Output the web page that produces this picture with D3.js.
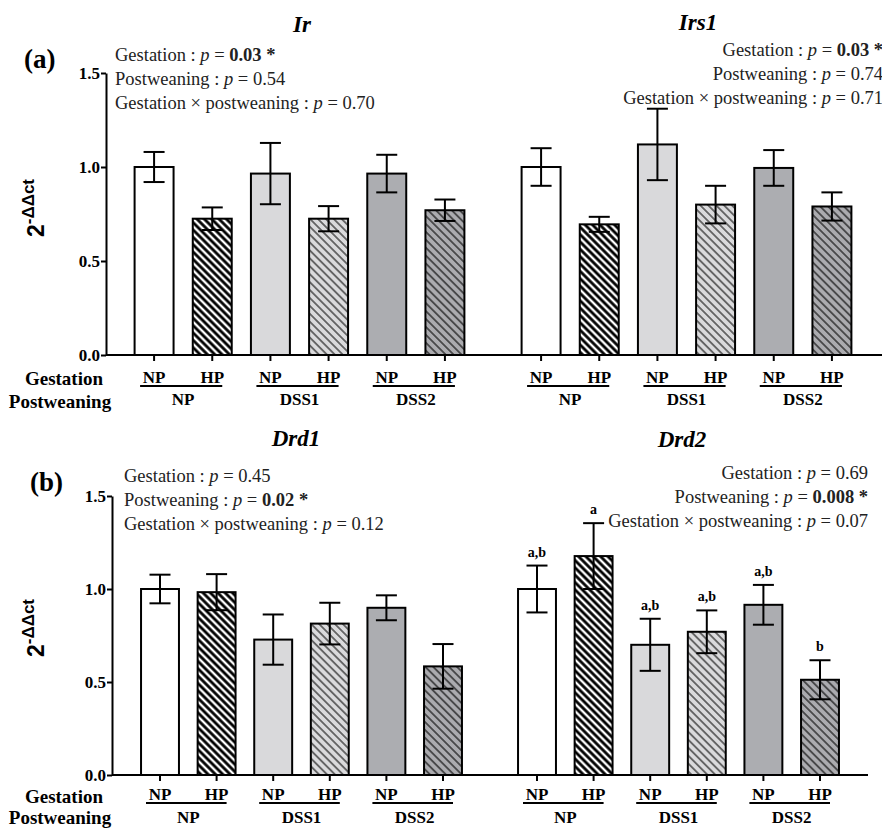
<!DOCTYPE html>
<html>
<head>
<meta charset="utf-8">
<script src="https://cdn.jsdelivr.net/npm/d3@7"></script>
<style>
  body { margin: 0; background: #fff; }
  text { font-family: "Liberation Serif", "Times New Roman", serif; }
</style>
</head>
<body>
<div id="chart"></div>
<script>
// bar groups, same order in every gene
var gestation = ["NP", "HP", "NP", "HP", "NP", "HP"];
var postweaning = ["NP", "DSS1", "DSS2"];
var groupIds = ["NP-NP", "NP-HP", "DSS1-NP", "DSS1-HP", "DSS2-NP", "DSS2-HP"];
var yTicks = [0, 0.5, 1.0, 1.5];

// 2^-ddct means and error (SEM)
var irMean   = [1.00, 0.725, 0.965, 0.725, 0.965, 0.77];
var irErr    = [0.08, 0.06, 0.163, 0.067, 0.10, 0.057];
var irs1Mean = [1.00, 0.695, 1.12, 0.80, 0.995, 0.79];
var irs1Err  = [0.10, 0.04, 0.19, 0.10, 0.095, 0.075];
var drd1Mean = [1.00, 0.983, 0.728, 0.814, 0.899, 0.584];
var drd1Err  = [0.077, 0.097, 0.135, 0.112, 0.067, 0.12];
var drd2Mean = [1.00, 1.177, 0.70, 0.77, 0.915, 0.512];
var drd2Err  = [0.126, 0.177, 0.14, 0.115, 0.107, 0.105];
var drd2Letters = ["a,b", "a", "a,b", "a,b", "a,b", "b"];

// two-way anova lines: [label, p value, significant]
var irStats   = [["Gestation", "0.03", true], ["Postweaning", "0.54", false], ["Gestation \u00d7 postweaning", "0.70", false]];
var irs1Stats = [["Gestation", "0.03", true], ["Postweaning", "0.74", false], ["Gestation \u00d7 postweaning", "0.71", false]];
var drd1Stats = [["Gestation", "0.45", false], ["Postweaning", "0.02", true], ["Gestation \u00d7 postweaning", "0.12", false]];
var drd2Stats = [["Gestation", "0.69", false], ["Postweaning", "0.008", true], ["Gestation \u00d7 postweaning", "0.07", false]];

var W = 882, H = 828;
var svg = d3.select("#chart").append("svg")
    .attr("width", W)
    .attr("height", H);

// hatch patterns for the HP bars
var defs = svg.append("defs");
function hatch(id, bg, fg, lw, size) {
  var p = defs.append("pattern")
      .attr("id", id)
      .attr("patternUnits", "userSpaceOnUse")
      .attr("width", size).attr("height", size)
      .attr("patternTransform", "rotate(-45)");
  p.append("rect").attr("width", size).attr("height", size).attr("fill", bg);
  p.append("line").attr("x1", size / 2).attr("x2", size / 2)
      .attr("y1", 0).attr("y2", size)
      .attr("stroke", fg).attr("stroke-width", lw);
}
hatch("hBlack", "#000", "#fff", 2.4, 5.2);
hatch("hLight", "#dadadc", "#222", 1.2, 5.6);
hatch("hDark", "#ababaf", "#111", 1.2, 5.6);

var fills = ["#fff", "url(#hBlack)", "#d9d9db", "url(#hLight)", "#acadb1", "url(#hDark)"];

var panels = [
  { tag: "(a)", tagX: 24, tagY: 68, y0: 355, y1: 73, axisX: 106, end: 882,
    labY: 28, lineY: 31, grpY: 50, gestY: 30, postY: 53, yLabY: 208,
    genes: [
      { name: "Ir", mean: irMean, err: irErr, stats: irStats, range: [125, 474],
        titleX: 302, titleY: 32, statX: 115, statY: 61, anchor: "start" },
      { name: "Irs1", mean: irs1Mean, err: irs1Err, stats: irs1Stats, range: [512, 861],
        titleX: 698, titleY: 30, statX: 883, statY: 56, anchor: "end" }
    ] },
  { tag: "(b)", tagX: 30, tagY: 491, y0: 775, y1: 496, axisX: 112, end: 868,
    labY: 25, lineY: 28, grpY: 48, gestY: 28, postY: 49, yLabY: 628,
    genes: [
      { name: "Drd1", mean: drd1Mean, err: drd1Err, stats: drd1Stats, range: [131.7, 471.3],
        titleX: 296, titleY: 446, statX: 124, statY: 482, anchor: "start" },
      { name: "Drd2", mean: drd2Mean, err: drd2Err, stats: drd2Stats, range: [508.7, 848.3],
        titleX: 682, titleY: 447, statX: 868, statY: 479, anchor: "end", letters: drd2Letters }
    ] }
];

panels.forEach(function(pn) {
  var g = svg.append("g");

  var y = d3.scaleLinear().domain([0, 1.5]).range([pn.y0, pn.y1]);

  // panel tag
  g.append("text")
      .attr("x", pn.tagX).attr("y", pn.tagY)
      .style("font-size", "27px").style("font-weight", "bold")
      .text(pn.tag);

  // y axis
  var ya = g.append("g")
      .attr("transform", "translate(" + pn.axisX + ",0)")
      .call(d3.axisLeft(y).tickValues(yTicks).tickFormat(d3.format(".1f")).tickSize(5).tickSizeOuter(0));
  ya.select(".domain").attr("stroke", "#000").attr("stroke-width", 2);
  ya.selectAll(".tick line").attr("stroke", "#000").attr("stroke-width", 2);
  ya.selectAll(".tick text")
      .attr("x", -6)
      .style("font-family", "'Liberation Serif', serif")
      .style("font-size", "17px").style("font-weight", "bold").attr("fill", "#000");

  // y label 2^-ddct
  var yl = g.append("text")
      .attr("transform", "translate(44," + pn.yLabY + ") rotate(-90)")
      .attr("text-anchor", "middle")
      .style("font-family", "'Liberation Sans', Arial, sans-serif")
      .style("font-weight", "bold");
  yl.append("tspan").style("font-size", "23px").text("2");
  yl.append("tspan").style("font-size", "17px").attr("dy", -10).text("-\u0394\u0394ct");

  // baseline
  g.append("line")
      .attr("x1", pn.axisX).attr("x2", pn.end)
      .attr("y1", pn.y0).attr("y2", pn.y0)
      .attr("stroke", "#000").attr("stroke-width", 2);

  // row headers
  g.append("text").attr("x", 64).attr("y", pn.y0 + pn.gestY)
      .attr("text-anchor", "middle")
      .style("font-size", "19px").style("font-weight", "bold").text("Gestation");
  g.append("text").attr("x", 60).attr("y", pn.y0 + pn.postY)
      .attr("text-anchor", "middle")
      .style("font-size", "19px").style("font-weight", "bold").text("Postweaning");

  pn.genes.forEach(function(gene) {
    var x = d3.scaleBand().domain(groupIds).range(gene.range)
        .paddingInner(0.33).paddingOuter(0.165);

    var rows = groupIds.map(function(id, i) {
      return { id: id, mean: gene.mean[i], err: gene.err[i], fill: fills[i],
               gest: gestation[i], letter: gene.letters ? gene.letters[i] : null };
    });

    // bars
    g.selectAll(null).data(rows).enter().append("rect")
        .attr("x", function(d) { return x(d.id); })
        .attr("y", function(d) { return y(d.mean); })
        .attr("width", x.bandwidth())
        .attr("height", function(d) { return pn.y0 - y(d.mean); })
        .attr("fill", function(d) { return d.fill; })
        .attr("stroke", "#000").attr("stroke-width", 2);

    // error bars
    var eb = g.selectAll(null).data(rows).enter().append("g")
        .attr("stroke", "#000").attr("stroke-width", 2);
    var cx = function(d) { return x(d.id) + x.bandwidth() / 2; };
    eb.append("line")
        .attr("x1", cx).attr("x2", cx)
        .attr("y1", function(d) { return y(d.mean + d.err); })
        .attr("y2", function(d) { return y(d.mean - d.err); });
    [1, -1].forEach(function(s) {
      eb.append("line")
          .attr("x1", function(d) { return cx(d) - 10.5; })
          .attr("x2", function(d) { return cx(d) + 10.5; })
          .attr("y1", function(d) { return y(d.mean + s * d.err); })
          .attr("y2", function(d) { return y(d.mean + s * d.err); });
    });

    // significance letters
    if (gene.letters) {
      g.selectAll(null).data(rows).enter().append("text")
          .attr("x", cx)
          .attr("y", function(d) { return y(d.mean + d.err) - 9; })
          .attr("text-anchor", "middle")
          .style("font-size", "14px").style("font-weight", "bold")
          .text(function(d) { return d.letter; });
    }

    // x ticks
    var xa = g.append("g")
        .attr("transform", "translate(0," + pn.y0 + ")")
        .call(d3.axisBottom(x).tickSize(6).tickFormat(""));
    xa.select(".domain").remove();
    xa.selectAll(".tick line").attr("stroke", "#000").attr("stroke-width", 2);

    // gestation labels
    g.selectAll(null).data(rows).enter().append("text")
        .attr("x", cx)
        .attr("y", pn.y0 + pn.labY)
        .attr("text-anchor", "middle")
        .style("font-size", "17px").style("font-weight", "bold")
        .text(function(d) { return d.gest; });

    // postweaning groups with underline
    postweaning.forEach(function(pw, k) {
      var a = cx(rows[2 * k]), b = cx(rows[2 * k + 1]);
      g.append("line")
          .attr("x1", a - 14).attr("x2", b + 10)
          .attr("y1", pn.y0 + pn.lineY).attr("y2", pn.y0 + pn.lineY)
          .attr("stroke", "#000").attr("stroke-width", 1.8);
      g.append("text")
          .attr("x", (a + b) / 2).attr("y", pn.y0 + pn.grpY)
          .attr("text-anchor", "middle")
          .style("font-size", "17px").style("font-weight", "bold")
          .text(pw);
    });

    // gene title
    g.append("text")
        .attr("x", gene.titleX).attr("y", gene.titleY)
        .attr("text-anchor", "middle")
        .style("font-size", "23px").style("font-weight", "bold").style("font-style", "italic")
        .text(gene.name);

    // anova lines
    gene.stats.forEach(function(s, k) {
      var t = g.append("text")
          .attr("x", gene.statX).attr("y", gene.statY + k * 24)
          .attr("text-anchor", gene.anchor)
          .style("font-size", "18.5px").attr("fill", "#222");
      t.append("tspan").text(s[0] + " : ");
      t.append("tspan").style("font-style", "italic").text("p");
      t.append("tspan").text(" = ");
      t.append("tspan").style("font-weight", s[2] ? "bold" : "normal")
          .text(s[1] + (s[2] ? " *" : ""));
    });
  });
});
</script>
</body>
</html>
